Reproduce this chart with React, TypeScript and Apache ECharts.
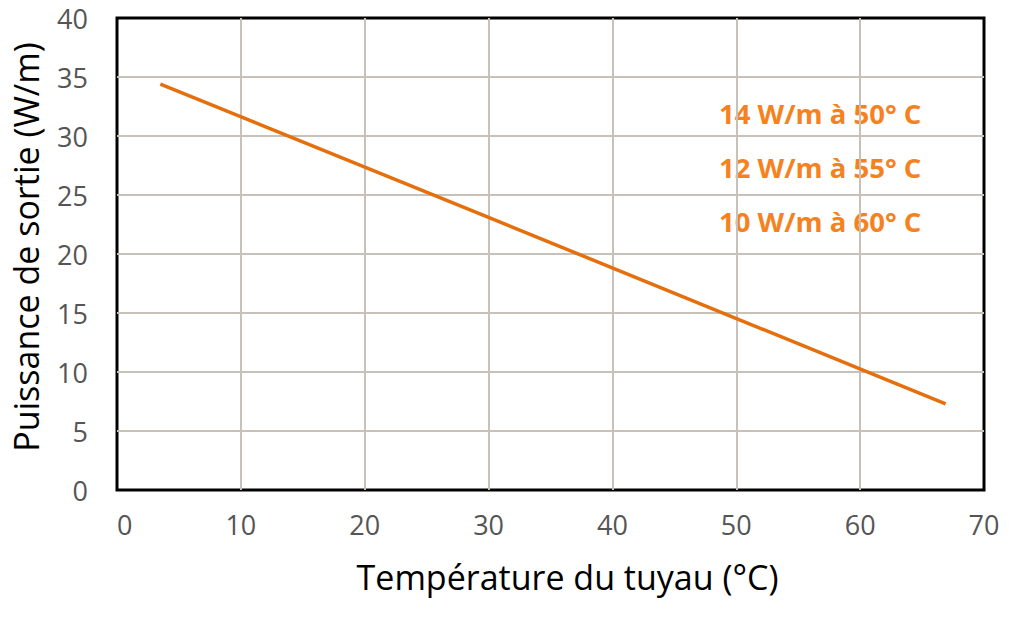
import React, { useEffect, useRef } from "react";
import * as echarts from "echarts";

const temperatures = [3.5, 30, 66.9];
const power = [34.4, 23.1, 7.3];
const xTicks = [0, 10, 20, 30, 40, 50, 60, 70];
const yTicks = [0, 5, 10, 15, 20, 25, 30, 35, 40];
const notes = ["14 W/m à 50° C", "12 W/m à 55° C", "10 W/m à 60° C"];
const xTitle = "Température du tuyau (°C)";
const yTitle = "Puissance de sortie (W/m)";

export default function App() {
  const ref = useRef<HTMLDivElement>(null);
  useEffect(() => {
    document.body.style.margin = "0";
    const chart = echarts.init(ref.current!, null, { renderer: "svg" });
    const font = "'Open Sans', 'Noto Sans', sans-serif";
    chart.setOption({
      animation: false,
      backgroundColor: "#ffffff",
      grid: {
        left: 117,
        right: 40,
        top: 18,
        bottom: 129,
        show: true,
        borderColor: "#000000",
        borderWidth: 3,
        containLabel: false,
      },
      xAxis: {
        type: "value",
        min: xTicks[0],
        max: xTicks[xTicks.length - 1],
        interval: 10,
        name: xTitle,
        nameLocation: "middle",
        nameGap: 70,
        nameTextStyle: { fontFamily: font, fontSize: 34, color: "#000000", padding: [0, 0, 0, 34] },
        axisLine: { show: false },
        axisTick: { show: false },
        axisLabel: { fontFamily: font, fontSize: 27, color: "#555555", margin: 21, alignMinLabel: "left" },
        splitLine: { show: true, showMinLine: false, showMaxLine: false, lineStyle: { color: "#c8c1ba", width: 2 } },
      },
      yAxis: {
        type: "value",
        min: yTicks[0],
        max: yTicks[yTicks.length - 1],
        interval: 5,
        name: yTitle,
        nameLocation: "middle",
        nameGap: 74,
        nameTextStyle: { fontFamily: font, fontSize: 34, color: "#000000", padding: [0, 0, 0, 14] },
        axisLine: { show: false },
        axisTick: { show: false },
        axisLabel: { fontFamily: font, fontSize: 27, color: "#555555", margin: 29 },
        splitLine: { show: true, showMinLine: false, showMaxLine: false, lineStyle: { color: "#c8c1ba", width: 2 } },
      },
      series: [
        {
          type: "line",
          data: temperatures.map((t, i) => [t, power[i]]),
          showSymbol: false,
          symbol: "none",
          lineStyle: { color: "#e46f0c", width: 3.5 },
        },
      ],
      graphic: notes.map((n, i) => ({
        type: "text",
        left: 719,
        top: 99 + i * 54,
        style: {
          text: n,
          fontFamily: font,
          fontWeight: "bold",
          fontSize: 27.5,
          fill: "#f5821f",
        },
      })),
    });
    return () => chart.dispose();
  }, []);
  return <div ref={ref} style={{ width: 1024, height: 619 }} />;
}
